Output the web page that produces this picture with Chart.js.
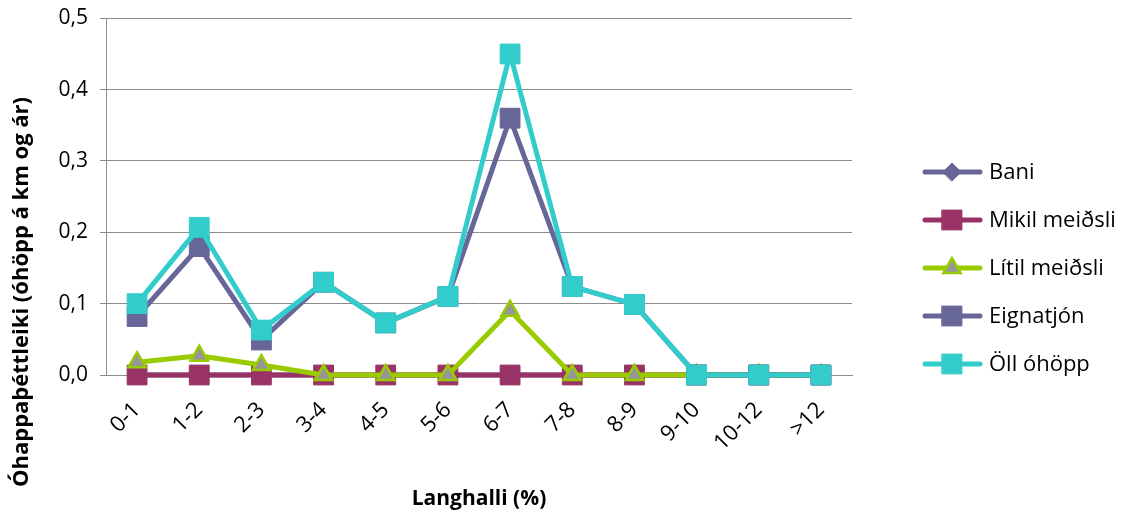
<!DOCTYPE html>
<html>
<head>
<meta charset="utf-8">
<script src="https://cdn.jsdelivr.net/npm/chart.js@4/dist/chart.umd.min.js"></script>
<style>
  html, body { margin: 0; padding: 0; background: #fff; }
  #wrap { width: 1130px; height: 514px; }
</style>
</head>
<body>
<div id="wrap"><canvas id="myChart" width="1130" height="514"></canvas></div>
<script>
const categories = ['0-1', '1-2', '2-3', '3-4', '4-5', '5-6', '6-7', '7-8', '8-9', '9-10', '10-12', '>12'];
const bani = [0, 0, 0, 0, 0, 0, 0, 0, 0, 0, 0, 0];
const mikilMeidsli = [0, 0, 0, 0, 0, 0, 0, 0, 0, 0, 0, 0];
const litilMeidsli = [0.018, 0.027, 0.014, 0, 0, 0, 0.09, 0, 0, 0, 0, 0];
const eignatjon = [0.082, 0.18, 0.049, 0.13, 0.073, 0.11, 0.36, 0.124, 0.099, 0, 0, 0];
const ollOhopp = [0.1, 0.207, 0.063, 0.13, 0.073, 0.11, 0.45, 0.124, 0.099, 0, 0, 0];
const yTicks = [0, 0.1, 0.2, 0.3, 0.4, 0.5];

const yTitle = 'Óhappaþéttleiki (óhöpp á km og ár)';
const xTitle = 'Langhalli (%)';
const FONT = "'Open Sans', sans-serif";

// legend drawn by hand: line with the marker on top, like the spreadsheet legend
const sideLegend = {
  id: 'sideLegend',
  afterDraw(chart) {
    const ctx = chart.ctx;
    ctx.save();
    chart.data.datasets.forEach((ds, i) => {
      const y = 172 + i * 48;
      ctx.strokeStyle = ds.borderColor;
      ctx.lineWidth = 5;
      ctx.lineCap = 'round';
      ctx.beginPath();
      ctx.moveTo(925, y);
      ctx.lineTo(980, y);
      ctx.stroke();
      ctx.fillStyle = ds.pointBackgroundColor;
      ctx.strokeStyle = ds.pointBorderColor;
      ctx.lineWidth = ds.pointBorderWidth;
      Chart.helpers.drawPoint(ctx, {
        pointStyle: ds.pointStyle,
        radius: ds.pointStyle === 'rectRot' ? 9 : ds.pointRadius,
        rotation: 0,
        borderWidth: ds.pointBorderWidth
      }, 952, y);
      ctx.fillStyle = '#000';
      ctx.font = '22px ' + FONT;
      ctx.textAlign = 'left';
      ctx.textBaseline = 'middle';
      ctx.fillText(ds.label, 989, y + 1);
    });
    // y axis title, centred lower than the plot like the original
    ctx.translate(22, 292);
    ctx.rotate(-Math.PI / 2);
    ctx.fillStyle = '#000';
    ctx.font = 'bold 22px ' + FONT;
    ctx.textAlign = 'center';
    ctx.textBaseline = 'middle';
    ctx.fillText(yTitle, 0, 0);
    ctx.restore();
  }
};

function series(label, data, color, style, radius, fill, border, order) {
  return {
    label: label,
    data: data,
    borderColor: color,
    backgroundColor: color,
    borderWidth: 5,
    pointStyle: style,
    pointRadius: radius,
    pointHoverRadius: radius,
    pointBackgroundColor: fill,
    pointBorderColor: border,
    pointBorderWidth: style === 'triangle' ? 2.5 : 1,
    tension: 0,
    clip: false,
    order: order
  };
}

const ctx = document.getElementById('myChart').getContext('2d');
new Chart(ctx, {
  type: 'line',
  data: {
    labels: categories,
    datasets: [
      series('Bani', bani, '#666699', 'rectRot', 9, '#666699', '#666699', 4),
      series('Mikil meiðsli', mikilMeidsli, '#993366', 'rect', 14, '#993366', '#993366', 3),
      series('Lítil meiðsli', litilMeidsli, '#99cc00', 'triangle', 10, '#969696', '#99cc00', 2),
      series('Eignatjón', eignatjon, '#666699', 'rect', 14, '#666699', '#666699', 1),
      series('Öll óhöpp', ollOhopp, '#33cccc', 'rect', 14, '#33cccc', '#33cccc', 0)
    ]
  },
  options: {
    responsive: false,
    animation: false,
    layout: { padding: { top: 17, right: 278, left: 0, bottom: 0 } },
    plugins: {
      legend: { display: false },
      tooltip: { enabled: false }
    },
    scales: {
      y: {
        min: 0,
        max: 0.5,
        afterBuildTicks: (scale) => { scale.ticks = yTicks.map(v => ({ value: v })); },
        afterFit: (scale) => { scale.width = 106; },
        ticks: {
          color: '#000',
          padding: 12,
          font: { family: FONT, size: 21, lineHeight: 0.6 },
          callback: (v) => v.toFixed(1).replace('.', ',')
        },
        grid: { color: '#8c8c8c', lineWidth: 1, tickLength: 6, drawTicks: true },
        border: { color: '#8c8c8c' }
      },
      x: {
        offset: true,
        afterFit: (scale) => { scale.height = 139; },
        ticks: {
          color: '#000',
          minRotation: 45,
          maxRotation: 45,
          padding: 14,
          font: { family: FONT, size: 22 }
        },
        grid: { display: false },
        border: { color: '#8c8c8c' },
        title: {
          display: true,
          text: xTitle,
          color: '#000',
          padding: { top: 0, bottom: 2 },
          font: { family: FONT, size: 21, weight: 'bold' }
        }
      }
    }
  },
  plugins: [sideLegend]
});
</script>
</body>
</html>
